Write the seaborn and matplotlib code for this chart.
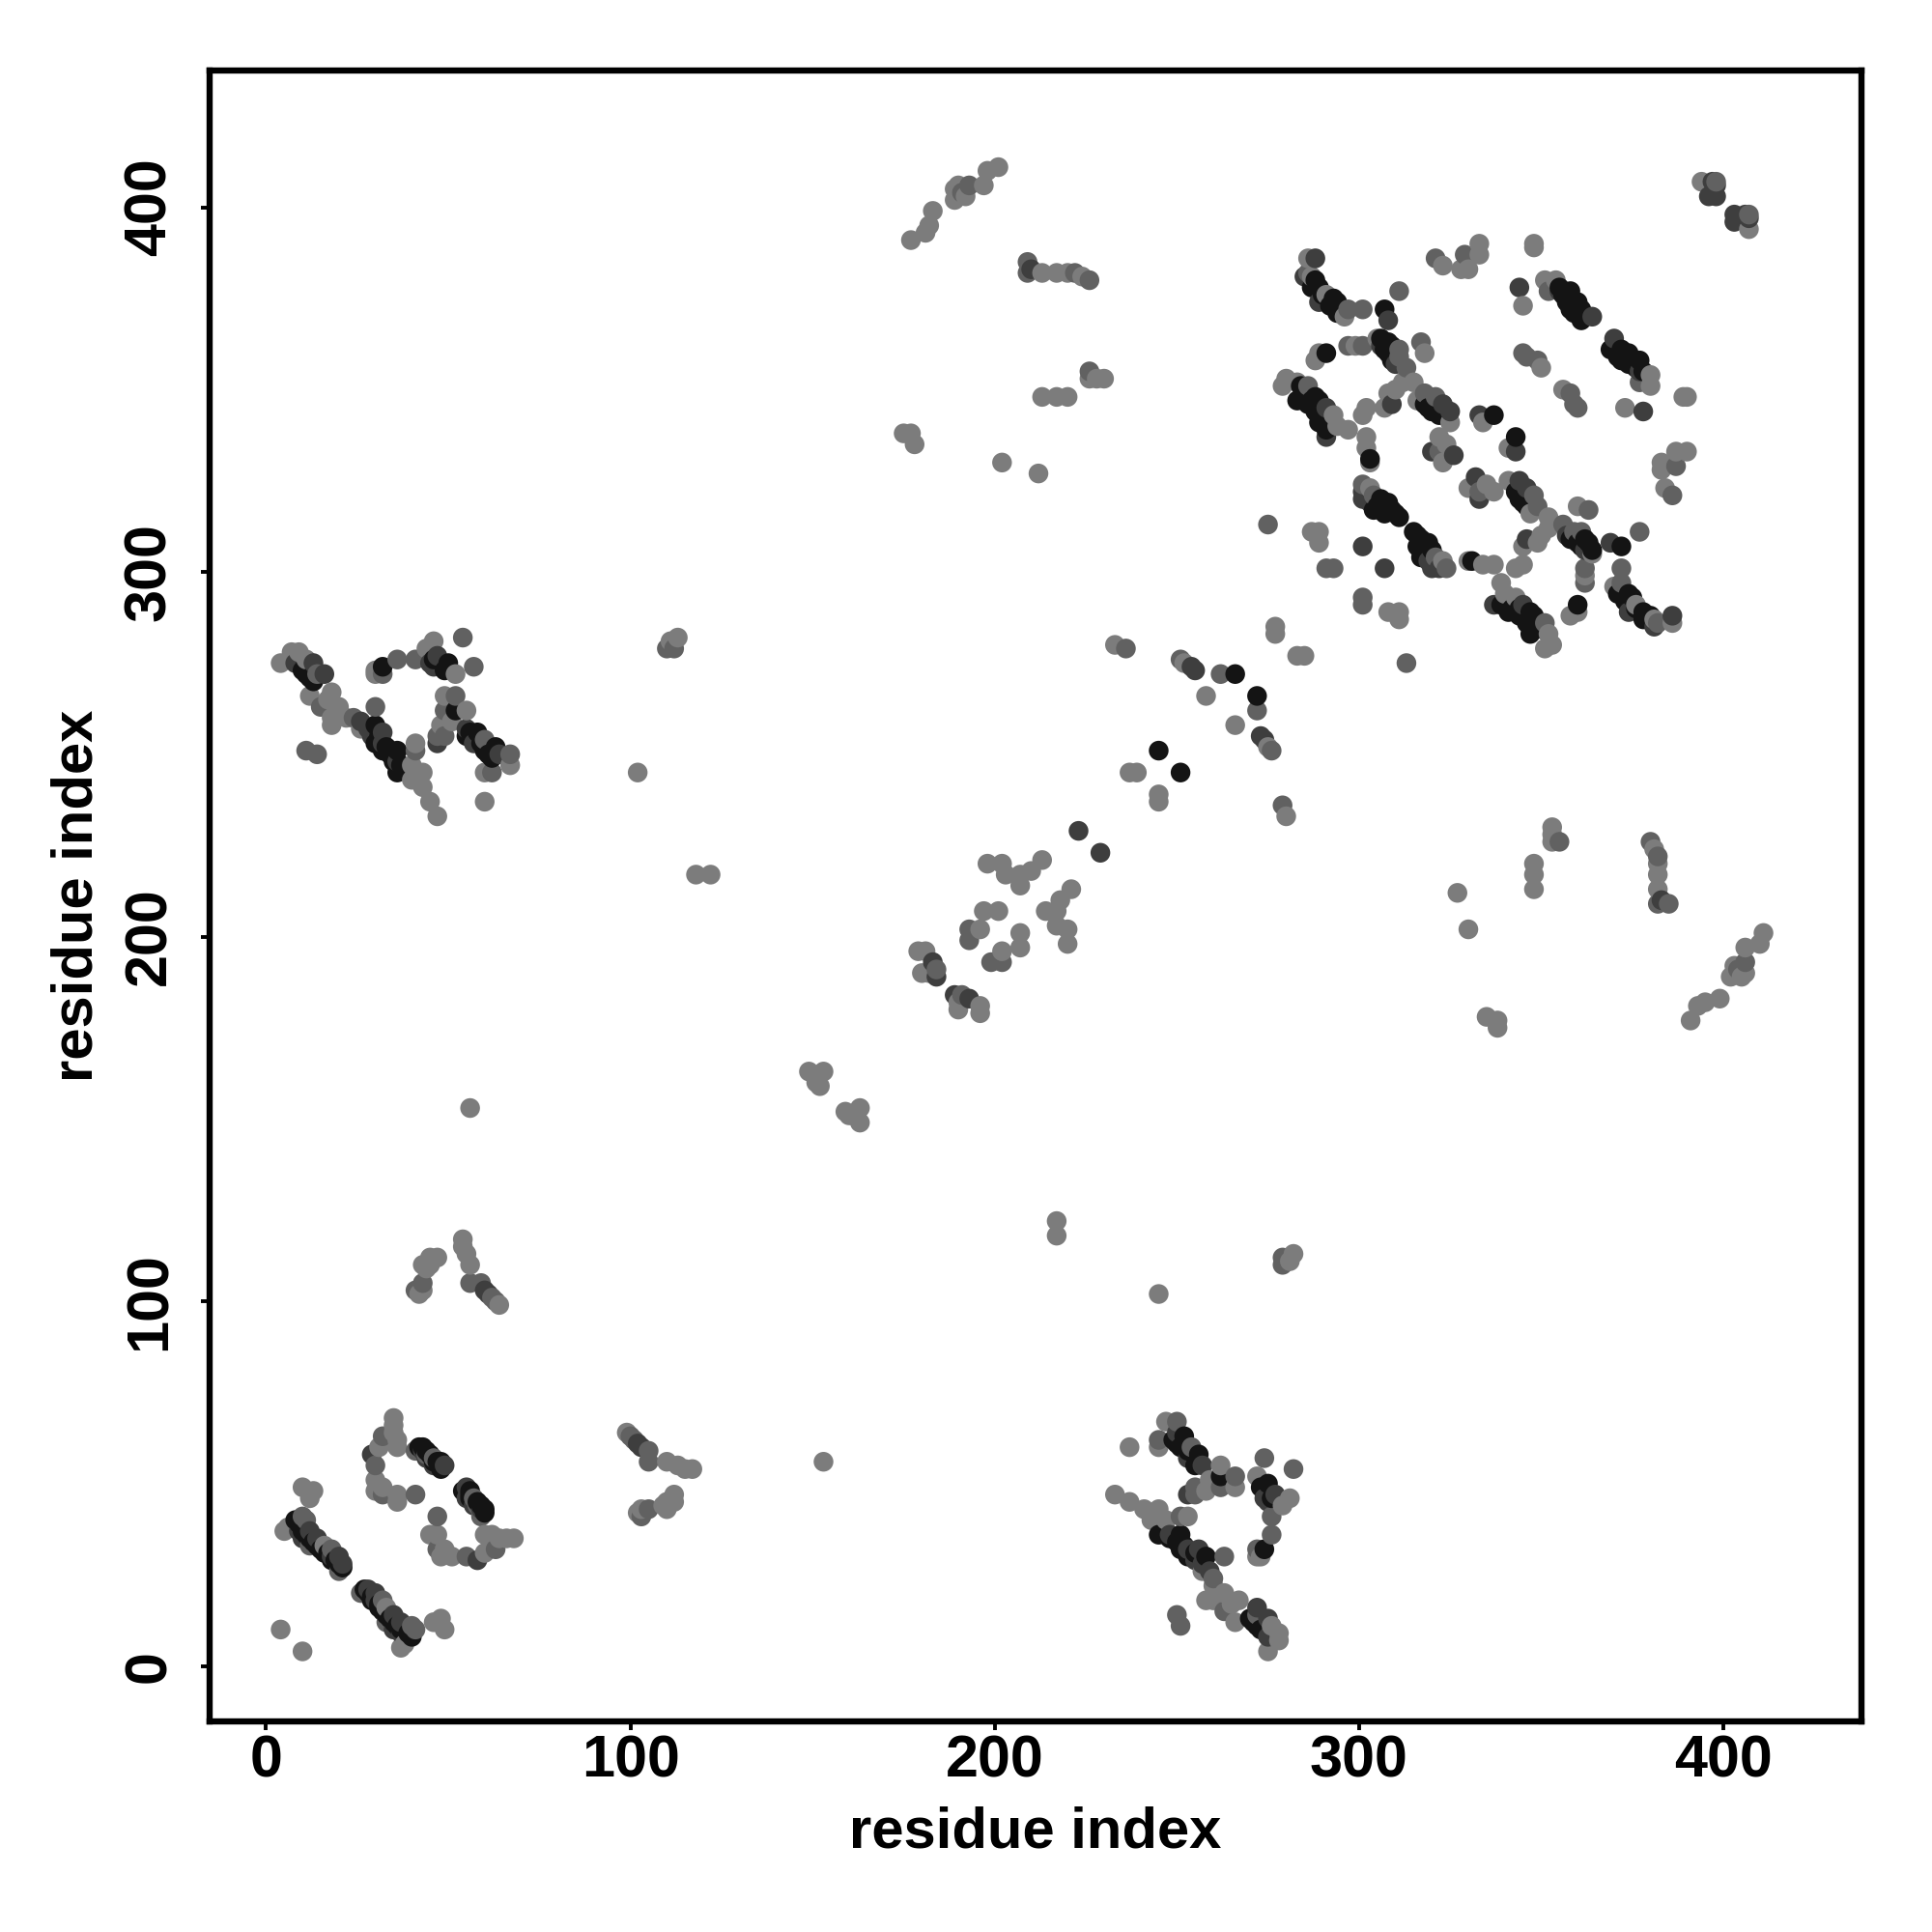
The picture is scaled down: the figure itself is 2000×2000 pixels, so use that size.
import numpy as np
import pandas as pd
import matplotlib
matplotlib.use("Agg")
import matplotlib.pyplot as plt
import seaborn as sns

# contacts (i < j), grouped by grey level; the map is symmetric
light = [(5,37),(6,38),(10,49),(12,46),(13,48),(4,10),(16,33),(35,68),(35,66),(35,64),(36,62),(36,60),(31,60),(30,51),(30,48),(32,49),(36,47),(36,45),
 (42,102),(43,103),(44,109),(45,112),(47,112),(43,110),(45,110),(54,117),(54,115),(55,113),(56,110),(64,99),(56,153),
 (4,275),(7,278),(9,278),(11,276),(12,266),(18,267),(17,265),(20,263),(18,258),(18,260),(22,260),(26,257),(41,253),(40,247),(43,245),(40,243),(43,241),(45,237),(47,233),(30,273),(30,272),(44,279),(46,281),(52,272),(49,266),(55,262),(48,258),(51,259),(67,247),(60,245),(60,237),
 (102,245),(118,217),(122,217),(111,281),(113,282),(149,163),(153,163),(151,160),(152,159),(151,161),
 (177,391),(181,393),(182,395),(183,399),(189,402),(189,405),(190,406),(192,403),(197,406),(198,410),(201,411),
 (213,382),(217,382),(220,382),(224,381),(213,348),(217,348),(220,348),(226,353),(228,353),(230,353),
 (175,338),(177,338),(178,335),(202,330),(212,327),(179,196),(181,196),(180,190),(182,190),
 (196,202),(197,207),(201,207),(198,220),(202,220),(203,217),(207,217),(207,214),(210,218),(213,221),
 (233,280),(237,245),(239,245),(258,266),(252,275),
 (286,386),(287,381),(291,376),(296,370),(323,384),(328,383),(330,383),(333,390),(333,387),(348,390),(348,389),(345,373),(351,380),(354,380),
 (289,360),(288,358),(299,362),(305,364),(312,352),(315,352),(308,349),(310,350),(307,345),(302,345),(301,343),(316,347),(325,341),
 (280,353),(279,351),(283,352),(293,343),(294,340),(297,339),(302,337),(302,334),(303,330),(322,337),(324,335),(323,330),(334,341),
 (318,360),(350,356),(303,323),(287,311),(289,311),(289,308),(277,285),(277,283),(394,407)]
mid = [(10,41),(11,40),(12,33),(18,32),(20,26),(30,55),(32,63),(32,47),(41,47),(41,59),(44,58),(46,57),
 (41,103),(43,105),(56,105),(59,105),(62,101),(63,100),
 (14,272),(15,263),(24,260),(30,263),(41,251),(11,251),(14,250),(32,272),(36,276),(41,276),(54,282),(57,274),(52,266),(49,262),(47,255),(49,255),(60,254),(67,250),(62,245),
 (110,279),(112,279),(193,406),(191,404),(209,385),(209,382),(222,382),(226,380),(226,355),(184,191),(193,199),(193,202),(236,279),(251,276),(262,272),
 (286,382),(297,372),(301,372),(311,377),(321,386),(329,387),(352,377),(297,362),(301,362),(311,361),(311,359),(313,356),(317,363),(318,349),(321,348),(301,324),(304,321),(345,360),(349,358),(346,359),(286,351),(322,333),(275,313),(291,301),(293,301),(398,407)]
dark = [(9,37),(10,35),(12,37),(14,35),(18,30),(20,30),(21,28),(29,58),(43,59),(44,57),(46,55),(49,55),(60,103),(61,102),
 (8,275),(13,275),(16,272),(26,259),(28,257),(29,255),(32,256),(32,253),(36,248),(45,275),(47,277),(46,274),(47,253),(55,257),(57,253),(64,250),
 (210,383),(184,189),(183,193),(223,229),(254,274),(255,273),
 (288,386),(285,381),(289,374),(308,369),(344,378),(355,377),(364,370),(306,362),(310,357),(309,346),(323,346),(325,344),(291,345),(291,337),(320,333),(326,332),(333,343),(301,320),(301,322),(303,319),(301,307),(397,407),(398,406),(396,403),(398,403)]
black = [(8,40),(9,39),(10,37),(11,36),(12,35),(13,34),(14,33),(15,32),(16,31),(17,31),(18,29),(19,29),(20,28),(21,27),(42,60),(43,60),(44,59),(45,58),(46,56),(47,56),(48,54),(48,56),
 (10,273),(11,272),(12,271),(13,270),(30,258),(30,253),(31,255),(32,251),(33,252),(34,250),(35,248),(36,251),(36,245),(37,247),(32,274),(46,276),(50,275),(49,273),(52,262),(55,255),(56,256),(58,256),(59,253),(60,251),(61,250),(63,252),(62,249),
 (245,251),(266,272),
 (287,378),(288,380),(289,378),(290,376),(292,373),(293,375),(294,374),(294,371),(307,372),(355,378),(356,376),(358,377),(357,374),(358,375),(358,372),(360,374),(359,371),(360,372),(361,372),(361,369),(362,370),(291,360),(306,364),(307,361),(308,363),(308,360),(309,362),(309,358),(318,346),(319,345),(320,344),(321,346),(322,343),(323,344),
 (284,351),(285,350),(283,347),(286,349),(286,346),(287,347),(288,348),(289,347),(288,344),(290,344),(289,341),(290,342),(291,339),(303,331),(337,343),(306,320),(304,317),(305,318),(308,319),(307,316),(309,317),(310,316),(311,315)]
x_ticks = [0, 100, 200, 300, 400]
axis_label = "residue index"
grey_levels = {"light": "#7c7c7c", "mid": "#616161", "dark": "#3e3e3e", "black": "#141414"}

rows = []
for name, pairs in [("light", light), ("mid", mid), ("dark", dark), ("black", black)]:
    for i, j in pairs:
        rows.append((i, j, name))
        rows.append((j, i, name))
df = pd.DataFrame(rows, columns=["i", "j", "shade"]).sort_values(["i", "j"], kind="stable")

sns.set_theme(style="white")
plt.rcParams["font.family"] = ["Liberation Sans", "DejaVu Sans"]
fig = plt.figure(figsize=(10, 10), dpi=200)
ax = fig.add_axes([217/2000, 218/2000, 1710/2000, 1709/2000])
sns.scatterplot(data=df, x="i", y="j", hue="shade", palette=grey_levels, s=54, linewidth=0,
                legend=False, ax=ax)
ax.set_xlim(-15.5, 437.9)
ax.set_ylim(-15.2, 437.5)
ax.set_xticks(x_ticks)
ax.set_yticks(x_ticks)
ax.set_xlabel(axis_label, fontsize=21.5, fontweight="bold", labelpad=6, color="black")
ax.set_ylabel(axis_label, fontsize=21.5, fontweight="bold", labelpad=7, color="black")
ax.tick_params(axis="x", which="major", length=3.4, width=1.4, bottom=True,
               labelsize=22, color="black", labelcolor="black", pad=1.5)
ax.tick_params(axis="y", which="major", length=3.4, width=1.4, left=True,
               labelsize=22, color="black", labelcolor="black", pad=8.4)
for lab in ax.get_xticklabels() + ax.get_yticklabels():
    lab.set_fontweight("bold")
for lab in ax.get_yticklabels():
    lab.set_rotation(90)
    lab.set_va("center")
for sp in ax.spines.values():
    sp.set_linewidth(2.3)
    sp.set_color("black")
fig.savefig("out.png", dpi=200)
